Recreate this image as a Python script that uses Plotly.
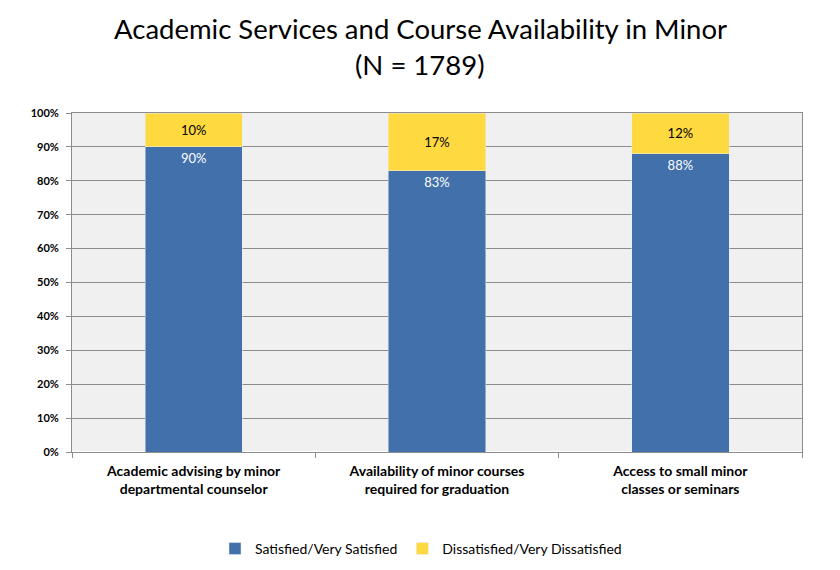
import plotly.graph_objects as go

categories = ["Academic advising by minor<br>departmental counselor",
              "Availability of minor courses<br>required for graduation",
              "Access to small minor<br>classes or seminars"]
satisfied = [90, 83, 88]
dissatisfied = [10, 17, 12]
ytick_vals = [0, 10, 20, 30, 40, 50, 60, 70, 80, 90, 100]
ytick_text = [f"{v}%" for v in ytick_vals]
title_lines = ["Academic Services and Course Availability in Minor", "(N = 1789)"]

FONT = "Lato"

fig = go.Figure()
fig.add_trace(go.Bar(
    x=categories, y=satisfied, name="Satisfied/Very Satisfied",
    marker=dict(color="#4170ab"),
    text=[f"{v}%" for v in satisfied], textposition="inside",
    insidetextanchor="end", textfont=dict(color="white", size=13, family=FONT),
))
fig.add_trace(go.Bar(
    x=categories, y=dissatisfied, name="Dissatisfied/Very Dissatisfied",
    marker=dict(color="#ffd940"),
    text=[f"{v}%" for v in dissatisfied], textposition="inside",
    insidetextanchor="middle", textfont=dict(color="black", size=13, family=FONT),
))

for i, line in enumerate(title_lines):
    fig.add_annotation(text=line, xref="paper", yref="paper", x=(412 - 64) / 730,
                       xanchor="center", y=1, yanchor="middle", yshift=85 - 36 * i,
                       showarrow=False, font=dict(size=27.5, family=FONT, color="black"))

fig.update_layout(
    barmode="stack", bargap=0.6,
    width=840, height=570,
    margin=dict(l=64, r=46, t=105, b=126),
    paper_bgcolor="white", plot_bgcolor="#f0f0f0",
    font=dict(family=FONT, color="black"),
    legend=dict(orientation="h", x=0.5 - (64 - 46 + 14) / 2 / 730, xanchor="center",
                yref="container", y=0.051, yanchor="middle",
                font=dict(size=14, family=FONT), traceorder="normal"),
    showlegend=True,
)
fig.update_yaxes(range=[0, 100], tickvals=ytick_vals, ticktext=ytick_text,
                 showgrid=True, gridcolor="#8c8c8c", gridwidth=1,
                 ticks="outside", ticklen=5, tickcolor="#8c8c8c",
                 showline=True, linecolor="#8c8c8c", mirror=True,
                 ticklabelstandoff=5,
                 tickfont=dict(size=11, family=FONT, weight="bold"))
fig.update_xaxes(showline=True, linecolor="#8c8c8c", mirror=True,
                 ticks="outside", tickson="boundaries", ticklen=5, tickcolor="#8c8c8c",
                 ticklabelstandoff=6,
                 tickfont=dict(size=14, family=FONT, weight="bold"))

fig.write_html("out.html")
